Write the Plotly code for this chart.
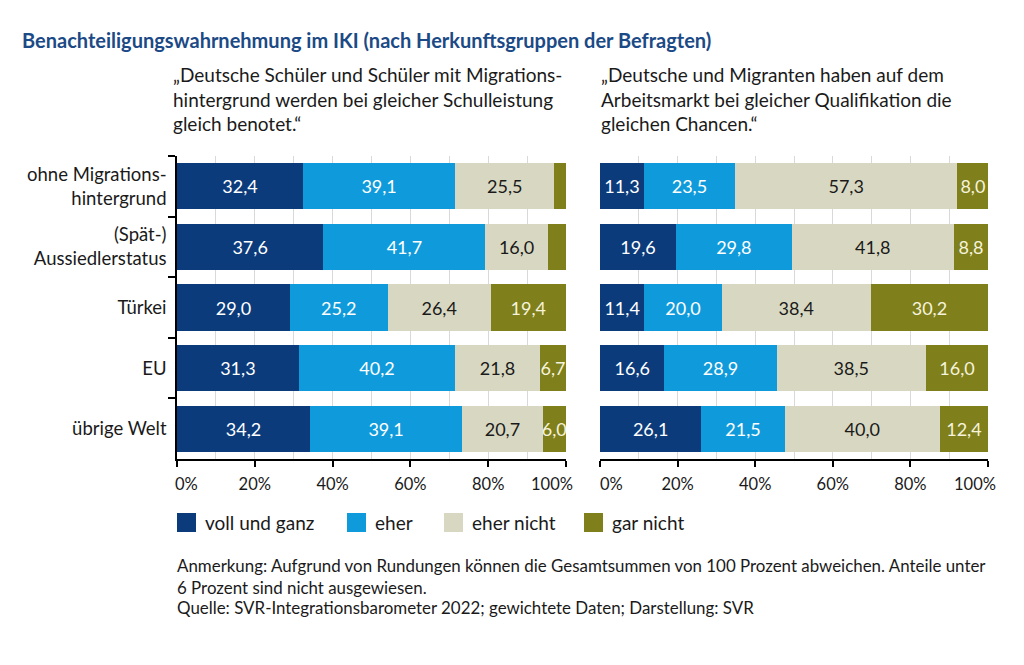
import plotly.graph_objects as go

# ---------------- data ----------------
categories = ["ohne Migrations-<br>hintergrund", "(Spät-)<br>Aussiedlerstatus", "Türkei", "EU", "übrige Welt"]
series_names = ["voll und ganz", "eher", "eher nicht", "gar nicht"]

school_voll = [32.4, 37.6, 29.0, 31.3, 34.2]
school_eher = [39.1, 41.7, 25.2, 40.2, 39.1]
school_eher_nicht = [25.5, 16.0, 26.4, 21.8, 20.7]
school_gar_nicht = [3.0, 4.7, 19.4, 6.7, 6.0]

job_voll = [11.3, 19.6, 11.4, 16.6, 26.1]
job_eher = [23.5, 29.8, 20.0, 28.9, 21.5]
job_eher_nicht = [57.3, 41.8, 38.4, 38.5, 40.0]
job_gar_nicht = [8.0, 8.8, 30.2, 16.0, 12.4]

tick_values = [0, 20, 40, 60, 80, 100]
tick_labels = ["0%", "20%", "40%", "60%", "80%", "100%"]

title_text = "Benachteiligungswahrnehmung im IKI (nach Herkunftsgruppen der Befragten)"
subtitle_left = "„Deutsche Schüler und Schüler mit Migrations-<br>hintergrund werden bei gleicher Schulleistung<br>gleich benotet.“"
subtitle_right = "„Deutsche und Migranten haben auf dem<br>Arbeitsmarkt bei gleicher Qualifikation die<br>gleichen Chancen.“"
note_text = "Anmerkung: Aufgrund von Rundungen können die Gesamtsummen von 100 Prozent abweichen. Anteile unter<br>6 Prozent sind nicht ausgewiesen."
source_text = "Quelle: SVR-Integrationsbarometer 2022; gewichtete Daten; Darstellung: SVR"

# ---------------- style ----------------
colors = ["#0c3b7c", "#0f9bdb", "#d8d8c2", "#7f7f1b"]
text_colors = ["#ffffff", "#ffffff", "#1a1a1a", "#f6f3dc"]
FONT = "Lato"
TICK_FONT = dict(family=FONT, size=16.5, color="#1a1a1a")
OFF = 8                      # page body margin
W, H = 1024 - 2 * OFF, 665 - OFF

def px_x(v):
    return (v - OFF) / W

def px_y(v):
    return 1 - (v - OFF) / H

def fmt(v):
    return (f"{v:.1f}".replace(".", ",")) if v >= 6 else ""

# the two end labels are drawn separately (nudged inwards, as in the original)
inner_ticks = [""] + tick_labels[1:-1] + [""]

fig = go.Figure()

panels = [
    ("x", "y", [school_voll, school_eher, school_eher_nicht, school_gar_nicht]),
    ("x2", "y2", [job_voll, job_eher, job_eher_nicht, job_gar_nicht]),
]
for xa, ya, series in panels:
    for name, vals, col, tcol in zip(series_names, series, colors, text_colors):
        fig.add_trace(go.Bar(
            y=categories, x=vals, orientation="h", name=name,
            marker=dict(color=col, line=dict(width=0)),
            text=[fmt(v) for v in vals], textposition="inside",
            insidetextanchor="middle", textangle=0,
            textfont=dict(family=FONT, size=18, color=tcol),
            xaxis=xa, yaxis=ya, showlegend=False, hoverinfo="skip",
        ))

xcommon = dict(
    range=[0, 100], tickmode="array", tickvals=tick_values, ticktext=inner_ticks,
    ticks="outside", ticklen=6, tickwidth=1.5, tickcolor="#000",
    showline=True, linecolor="#000", linewidth=1.5,
    showgrid=True, gridcolor="#d9d9d9", gridwidth=1,
    minor=dict(tickmode="linear", tick0=0, dtick=10, showgrid=True, gridcolor="#d9d9d9", gridwidth=1),
    zeroline=False, tickfont=TICK_FONT,
    ticklabelstandoff=3, automargin=False, fixedrange=True,
)
ydom = [px_y(459), px_y(156)]

fig.update_layout(
    width=W, height=H, autosize=False,
    margin=dict(l=0, r=0, t=0, b=0),
    paper_bgcolor="white", plot_bgcolor="white",
    barmode="stack", bargap=0.24,
    separators=",.",
    uniformtext=dict(minsize=16, mode="show"),
    font=dict(family=FONT, color="#1a1a1a"),
    xaxis=dict(domain=[px_x(177), px_x(566)], anchor="y", **xcommon),
    xaxis2=dict(domain=[px_x(600), px_x(988)], anchor="y2", **xcommon),
    yaxis=dict(domain=ydom, anchor="x", type="category", autorange="reversed",
               showline=True, linecolor="#000", linewidth=1.5,
               ticks="outside", tickson="boundaries", ticklen=7, tickwidth=1.5, tickcolor="#000",
               ticklabelstandoff=5, automargin=False,
               showgrid=False, tickfont=dict(family=FONT, size=18.5, color="#1a1a1a"),
               fixedrange=True),
    yaxis2=dict(domain=ydom, anchor="x2", type="category", autorange="reversed",
                showline=False, ticks="", showticklabels=False, showgrid=False,
                automargin=False, fixedrange=True),
)

annotations = [
    dict(text=f"<b>{title_text}</b>", x=px_x(20), y=px_y(40), xanchor="left", yanchor="middle",
         font=dict(family=FONT, size=20, color="#1b4a86")),
    dict(text=subtitle_left, x=px_x(171), y=px_y(61), xanchor="left", yanchor="top", align="left",
         font=dict(family=FONT, size=19, color="#1a1a1a")),
    dict(text=subtitle_right, x=px_x(599), y=px_y(61), xanchor="left", yanchor="top", align="left",
         font=dict(family=FONT, size=19, color="#1a1a1a")),
    dict(text=note_text, x=px_x(175), y=px_y(553), xanchor="left", yanchor="top", align="left",
         font=dict(family=FONT, size=16.9, color="#1a1a1a")),
    dict(text=source_text, x=px_x(175), y=px_y(595), xanchor="left", yanchor="top", align="left",
         font=dict(family=FONT, size=16.9, color="#1a1a1a")),
]
for a in annotations:
    a.update(xref="paper")

# end tick labels of both axes
for xr, shift0, shift1 in [("x", 9, -14), ("x2", 11, -13)]:
    annotations.append(dict(text=tick_labels[0], x=tick_values[0], xref=xr, xshift=shift0,
                            y=px_y(484), xanchor="center", yanchor="middle", font=TICK_FONT))
    annotations.append(dict(text=tick_labels[-1], x=tick_values[-1], xref=xr, xshift=shift1,
                            y=px_y(484), xanchor="center", yanchor="middle", font=TICK_FONT))

# manual legend (large square swatches)
legend_x = [177, 347, 444, 584]
shapes = []
for name, col, lx in zip(series_names, colors, legend_x):
    shapes.append(dict(type="rect", xref="paper", yref="paper",
                       x0=px_x(lx), x1=px_x(lx + 19), y0=px_y(532), y1=px_y(513),
                       fillcolor=col, line=dict(width=0)))
    annotations.append(dict(text=name, x=px_x(lx + 26), xref="paper", y=px_y(522),
                            xanchor="left", yanchor="middle",
                            font=dict(family=FONT, size=19, color="#1a1a1a")))

for a in annotations:
    a.update(yref="paper", showarrow=False)
fig.update_layout(annotations=annotations, shapes=shapes)

fig.write_html("out.html", config={"responsive": False})
